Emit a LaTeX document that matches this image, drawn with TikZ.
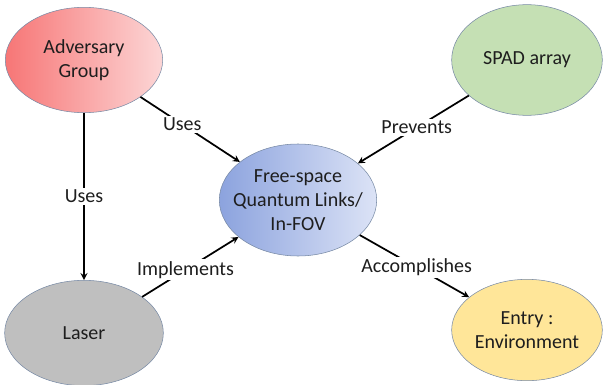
\documentclass[tikz,border=0pt]{standalone}
\usepackage{fontspec}
\setmainfont{Carlito}
\usetikzlibrary{arrows, positioning, calc, shapes.geometric}
\definecolor{advred}{RGB}{247,118,118}
\definecolor{advpink}{RGB}{252,214,214}
\definecolor{fsblue}{RGB}{140,163,222}
\definecolor{fslight}{RGB}{220,227,246}
\definecolor{spadgreen}{RGB}{197,224,180}
\definecolor{lasergray}{RGB}{191,191,191}
\definecolor{entryyellow}{RGB}{255,230,153}
\definecolor{bordergray}{RGB}{120,138,165}
\definecolor{textgray}{RGB}{30,30,30}

\begin{document}
\begin{tikzpicture}[x=0.75pt, y=-0.75pt, >=stealth, font=\fontsize{15}{18}\selectfont,
	bubble/.style={ellipse, draw=bordergray, thin, inner sep=0pt, align=center, text=textgray},
	lbl/.style={fill=white, inner sep=1.5pt, text=textgray}]
				\useasboundingbox (0,0) rectangle (603,385);
				\node [bubble, left color=advred, right color=advpink, minimum width=118pt, minimum height=79pt] (1) at (84,60) {Adversary\\Group};
				\node [bubble, fill=spadgreen, minimum width=113pt, minimum height=83pt] (2) at (527,60) {SPAD array};
				\node [bubble, left color=fsblue, right color=fslight, inner xsep=-7pt, minimum width=118pt, minimum height=84pt] (3) at (298,200) {Free-space\\Quantum Links/\\In-FOV};
				\node [bubble, fill=lasergray, minimum width=119pt, minimum height=79pt] (4) at (84,333) {Laser};
				\node [bubble, fill=entryyellow, minimum width=113pt, minimum height=76pt] (5) at (527,330) {Entry :\\Environment};
				
				\path[->,draw,line width=1.3pt]
				(1) edge node[lbl, pos=0.42]{Uses} (3)
				(1) edge node[lbl, pos=0.5]{Uses} (4)
				(4) edge node[lbl, pos=0.45]{Implements} (3)
				(2) edge node[lbl, pos=0.47]{Prevents} (3)
				(3) edge node[lbl, pos=0.52]{Accomplishes} (5);
			\end{tikzpicture}
\end{document}
